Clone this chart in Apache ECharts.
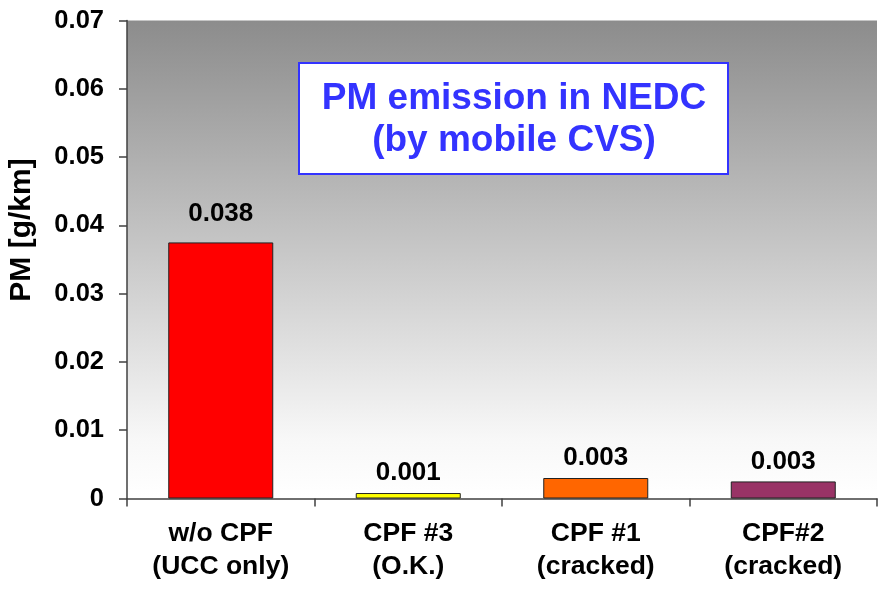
<!DOCTYPE html>
<html>
<head>
<meta charset="utf-8">
<script src="https://cdn.jsdelivr.net/npm/echarts@6/dist/echarts.min.js"></script>
<style>
  html, body { margin: 0; padding: 0; background: #ffffff; }
  #chart { width: 881px; height: 589px; }
</style>
</head>
<body>
<div id="chart"></div>
<script>
// PM emission per filter configuration, NEDC cycle
const categories = ['w/o CPF\n(UCC only)', 'CPF #3\n(O.K.)', 'CPF #1\n(cracked)', 'CPF#2\n(cracked)'];
const pmValues = [0.0375, 0.0008, 0.003, 0.0025];
const barColors = ['#FF0000', '#FFFF00', '#FF6600', '#993366'];
const labelDistances = [16, 7, 7, 7];
const yTicks = { min: 0, max: 0.07, interval: 0.01 };

const FONT = '"Liberation Sans", Arial, sans-serif';

const chart = echarts.init(document.getElementById('chart'), null, { renderer: 'canvas' });

function fmt3(v) {
  return (Math.round(v * 1000 + 1e-9) / 1000).toFixed(3);
}

chart.setOption({
  animation: false,
  backgroundColor: '#ffffff',
  grid: {
    left: 127, right: 4, top: 20.5, bottom: 90.5,
    show: true,
    borderWidth: 0,
    backgroundColor: {
      type: 'linear', x: 0, y: 0, x2: 0, y2: 1,
      colorStops: [
        { offset: 0, color: '#8c8c8c' },
        { offset: 0.88, color: '#f8f8f8' },
        { offset: 1, color: '#ffffff' }
      ]
    }
  },
  xAxis: {
    type: 'category',
    data: categories,
    axisLine: { lineStyle: { color: '#404040', width: 1.5 } },
    axisTick: { show: true, length: 8, lineStyle: { color: '#404040', width: 1.5 } },
    axisLabel: {
      color: '#000', fontFamily: FONT, fontWeight: 'bold', fontSize: 26.5,
      lineHeight: 33, margin: 19
    },
    splitLine: { show: false }
  },
  yAxis: {
    type: 'value',
    min: yTicks.min, max: yTicks.max, interval: yTicks.interval,
    axisLine: { show: true, lineStyle: { color: '#404040', width: 1.5 } },
    axisTick: { show: true, length: 8, lineStyle: { color: '#404040', width: 1.5 } },
    axisLabel: {
      color: '#000', fontFamily: FONT, fontWeight: 'bold', fontSize: 25.5, margin: 23,
      formatter: function (v) { return v === 0 ? '0' : String(Math.round(v * 100) / 100); }
    },
    splitLine: { show: false }
  },
  series: [{
    type: 'bar',
    barWidth: 105,
    data: pmValues.map(function (v, i) {
      return {
        value: v,
        itemStyle: { color: barColors[i], borderColor: '#222', borderWidth: 1 },
        label: { distance: labelDistances[i] }
      };
    }),
    label: {
      show: true, position: 'top',
      color: '#000', fontFamily: FONT, fontWeight: 'bold', fontSize: 26,
      formatter: function (p) { return fmt3(p.value); }
    }
  }],
  graphic: [
    {
      type: 'text',
      x: 22, y: 230, rotation: Math.PI / 2,
      style: {
        text: 'PM [g/km]', fill: '#000', font: 'bold 30px ' + FONT,
        textAlign: 'center', textVerticalAlign: 'middle'
      }
    },
    {
      type: 'rect',
      shape: { x: 299, y: 63, width: 429, height: 111 },
      style: { fill: '#ffffff', stroke: '#3333FF', lineWidth: 2 }
    },
    {
      type: 'text',
      x: 514, y: 120,
      style: {
        text: 'PM emission in NEDC\n(by mobile CVS)', fill: '#3333FF',
        font: 'bold 37px ' + FONT, lineHeight: 42,
        textAlign: 'center', textVerticalAlign: 'middle'
      }
    }
  ]
});
</script>
</body>
</html>
